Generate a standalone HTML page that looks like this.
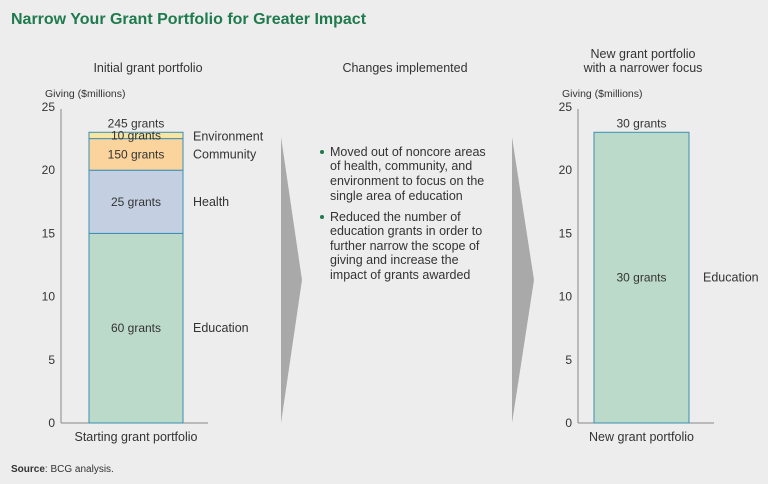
<!DOCTYPE html>
<html><head><meta charset="utf-8"><style>
body{margin:0;background:#ededee;font-family:"Liberation Sans",sans-serif;}
svg{display:block}
text{font-family:"Liberation Sans",sans-serif;fill:#333;}
</style></head><body>
<svg width="768" height="484">
<rect width="768" height="484" fill="#ededee"/>
<text x="11" y="24" font-size="16" font-weight="bold" style="fill:#1f7a4d">Narrow Your Grant Portfolio for Greater Impact</text>
<text x="148" y="72" font-size="12.5" text-anchor="middle">Initial grant portfolio</text>
<text x="405" y="72" font-size="12.5" text-anchor="middle">Changes implemented</text>
<text x="643" y="58" font-size="12.5" text-anchor="middle">New grant portfolio</text>
<text x="643" y="72" font-size="12.5" text-anchor="middle">with a narrower focus</text>
<polygon points="281,137 302,280 281,423" fill="#a9a9aa"/>
<polygon points="512,137 534,280 512,423" fill="#a9a9aa"/>
<g font-size="12.5">
<circle cx="322" cy="152" r="2" fill="#1f7a4d"/>
<text x="330" y="156">Moved out of noncore areas</text>
<text x="330" y="170">of health, community, and</text>
<text x="330" y="185">environment to focus on the</text>
<text x="330" y="200">single area of education</text>
<circle cx="322" cy="217" r="2" fill="#1f7a4d"/>
<text x="330" y="221">Reduced the number of</text>
<text x="330" y="235">education grants in order to</text>
<text x="330" y="250">further narrow the scope of</text>
<text x="330" y="264">giving and increase the</text>
<text x="330" y="279">impact of grants awarded</text>
</g>
<g id="left"></g><g id="right"></g>
<text x="11" y="472" font-size="10"><tspan font-weight="bold">Source</tspan>: BCG  analysis.</text>
</svg>
<script>
const ticks=[0,5,10,15,20,25];
const leftCats=["Education","Health","Community","Environment"];
const leftVals=[15,5,2.5,0.5];
const leftGrants=["60 grants","25 grants","150 grants","10 grants"];
const leftTotal="245 grants";
const rightCats=["Education"];
const rightVals=[23];
const rightGrants=["30 grants"];
const rightTotal="30 grants";
const colors={"Education":"#bcdac9","Health":"#c4d0e2","Community":"#fbd39c","Environment":"#f6e5a4"};
const NS="http://www.w3.org/2000/svg";
function y(v){return 423-v*(316/25);}
function el(p,t,a,txt){const e=document.createElementNS(NS,t);for(const k in a)e.setAttribute(k,a[k]);if(txt!=null)e.textContent=txt;p.appendChild(e);return e;}
function panel(g,ax,bx,bw,cats,vals,grants,total,xlabel,labelX){
  const t=el(g,'text',{x:ax-16,y:97,'font-size':10.5,fill:'#555'},'Giving ($millions)');
  
  
  const l=el(g,'line',{x1:ax,x2:ax,y1:y(25)+2,y2:y(0),stroke:'#888','stroke-width':1});
  
  
  ticks.forEach(v=>{const tt=el(g,'text',{x:ax-6,y:y(v)+4,'font-size':12,'text-anchor':'end'},String(v));
    
    });
  const b=el(g,'line',{x1:ax,x2:bx+bw+25,y1:y(0),y2:y(0),stroke:'#888'});
  
  
  let cum=0;
  cats.forEach((c,i)=>{const v=vals[i];
    const r=el(g,'rect',{x:bx,y:y(cum+v),width:bw,height:y(cum)-y(cum+v),fill:colors[c],stroke:'#3b8fb3','stroke-width':1});
    
    
    const mid=(y(cum)+y(cum+v))/2;
    const gl=el(g,'text',{x:bx+bw/2,y:mid+4,'font-size':12,'text-anchor':'middle'},grants[i]);
    
    
    const cl=el(g,'text',{x:labelX,y:mid+4+(c==="Environment"?1:0),'font-size':12.5},c);
    
    
    cum+=v;});
  const tl=el(g,'text',{x:bx+bw/2,y:y(cum)-5,'font-size':12,'text-anchor':'middle'},total);
  
  
  const xl=el(g,'text',{x:bx+bw/2,y:441,'font-size':12.5,'text-anchor':'middle'},xlabel);
  
  
}
panel(document.getElementById('left'),61,89,94,leftCats,leftVals,leftGrants,leftTotal,"Starting grant portfolio",193);
panel(document.getElementById('right'),578,594,95,rightCats,rightVals,rightGrants,rightTotal,"New grant portfolio",703);
</script>
</body></html>
